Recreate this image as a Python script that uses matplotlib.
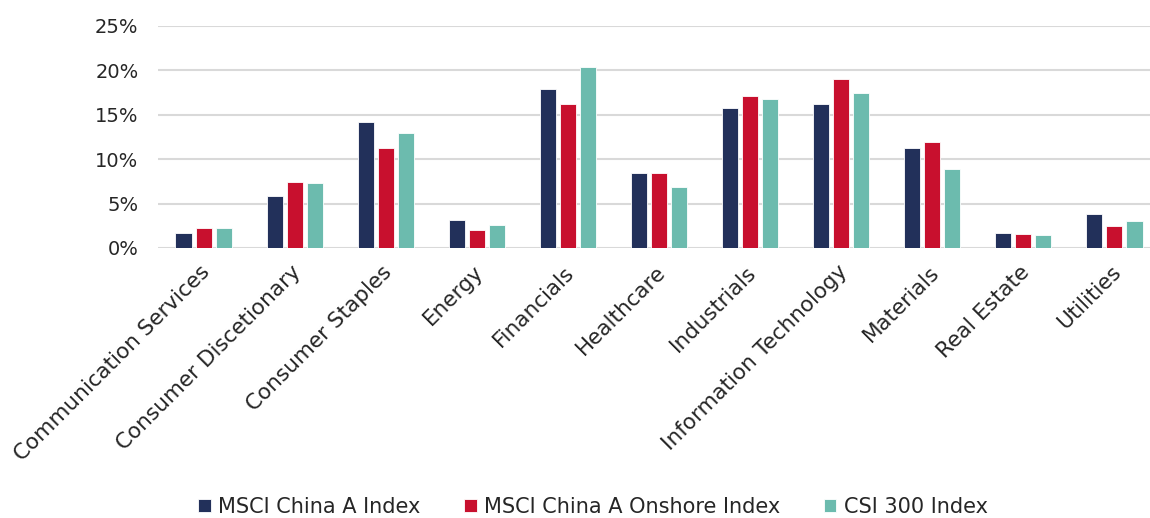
import matplotlib
matplotlib.use("Agg")
import matplotlib.pyplot as plt
import numpy as np
from matplotlib.ticker import PercentFormatter

plt.rcParams['font.family'] = ['DejaVu Sans']

sectors = ["Communication Services", "Consumer Discetionary", "Consumer Staples",
           "Energy", "Financials", "Healthcare", "Industrials",
           "Information Technology", "Materials", "Real Estate", "Utilities"]
msci_china_a = [1.65, 5.9, 14.15, 3.1, 17.85, 8.45, 15.7, 16.2, 11.25, 1.7, 3.8]
msci_onshore = [2.3, 7.4, 11.25, 2.0, 16.25, 8.4, 17.05, 19.0, 11.95, 1.6, 2.5]
csi_300 = [2.2, 7.35, 12.9, 2.55, 20.35, 6.85, 16.8, 17.4, 8.9, 1.45, 3.0]

series = [("MSCI China A Index", msci_china_a, "#22305A"),
          ("MSCI China A Onshore Index", msci_onshore, "#C8102E"),
          ("CSI 300 Index", csi_300, "#6CBBAE")]

W, H = 1150, 518
fig = plt.figure(figsize=(W / 100, H / 100), dpi=100)
left, right, top, bottom = 158, 1160, 25.7, 248
ax = fig.add_axes([left / W, 1 - bottom / H, (right - left) / W, (bottom - top) / H])

x = np.arange(len(sectors))
pitch = 0.22
width = 0.176
for i, (name, vals, color) in enumerate(series):
    ax.bar(x + (i - 1) * pitch, vals, width=width, color=color, label=name,
           edgecolor="white", linewidth=0.6, zorder=3)

text_color = "#262626"
ax.set_xlim(-0.5, len(sectors) - 0.5)
ax.set_ylim(0, 25)
ax.set_yticks(np.arange(0, 26, 5))
ax.yaxis.set_major_formatter(PercentFormatter(decimals=0))
ax.grid(axis="y", color="#D9D9D9", linewidth=1.5, zorder=0)
for s in ax.spines.values():
    s.set_visible(False)
ax.tick_params(axis="both", length=0, labelcolor=text_color)
ax.tick_params(axis="y", pad=14, labelsize=14)
ax.set_xticks(x - 0.04)
ax.set_xticklabels(sectors, rotation=45, ha="right", va="top", rotation_mode="anchor")
ax.tick_params(axis="x", pad=10, labelsize=15.5)

handles, labels = ax.get_legend_handles_labels()
leg = fig.legend(handles, labels, loc="center", bbox_to_anchor=(593 / W, 1 - 507 / H),
                 ncol=3, frameon=False, fontsize=15, handlelength=0.6, handleheight=0.6,
                 handletextpad=0.35, columnspacing=2.1, labelcolor=text_color)

fig.savefig("out.png", dpi=100)
